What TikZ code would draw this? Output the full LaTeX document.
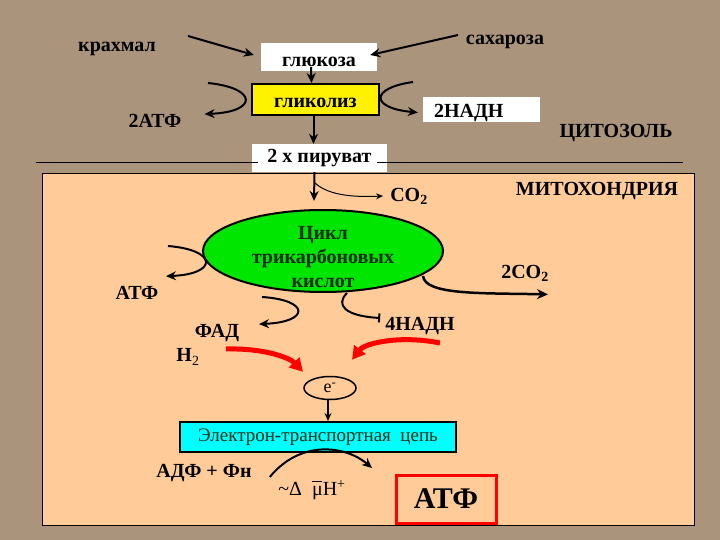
\documentclass[tikz,border=0pt]{standalone}
\usepackage{fontspec}
\setmainfont{Liberation Serif}
\usetikzlibrary{arrows.meta}
\usetikzlibrary{shapes.geometric}

\definecolor{stone}{RGB}{170,148,124}
\definecolor{peach}{RGB}{255,204,153}
\definecolor{leaf}{RGB}{0,230,0}
\definecolor{aqua}{RGB}{0,255,255}
\definecolor{ink}{RGB}{20,45,20}
\newcommand{\mubar}{\leavevmode\rlap{\raisebox{1.45ex}{\rule{0.5em}{0.8pt}}}μ}

\begin{document}
\begin{tikzpicture}[x=1pt,y=-1pt,
	lbl/.style={font=\fontsize{20}{22}\selectfont\bfseries,inner sep=0pt},
	big/.style={font=\fontsize{20}{22}\selectfont\bfseries,inner sep=0pt},
	whitebox/.style={lbl,fill=white,inner sep=0pt},
	arr/.style={line width=2pt,-{Stealth[length=10pt,width=9pt]}},
	thin arr/.style={line width=1pt,-{Stealth[length=7pt,width=6pt]}},
	red arr/.style={red,line width=5pt,-{Triangle[length=13pt,width=14pt]}}]
	\fill[stone] (0,0) rectangle (720,540);
	\useasboundingbox (0,0) rectangle (720,540);
	\draw[fill=peach] (42,173) rectangle (694,525);
	\node[lbl] (starch) at (117,49) {крахмал};
	\node[lbl] (sucrose) at (505,42) {сахароза};
	\node[whitebox,minimum width=116,minimum height=28,text height=19,text depth=0] (glucose) at (319,57) {глюкоза};
	\node[lbl,draw,line width=2pt,fill=yellow,minimum width=127,minimum height=31,text height=16,text depth=0] (glyc) at (315.5,99.5) {гликолиз};
	\node[whitebox,minimum height=25,text width=95,inner xsep=11,align=left,text height=17,text depth=0] (nadh2) at (481.5,109.5) {2НАДН};
	\node[lbl] (atp2) at (155,121) {2АТФ};
	\node[big] (cyto) at (616,133) {ЦИТОЗОЛЬ};
	\node[whitebox,minimum width=135,minimum height=28] (pyr) at (319.5,158) {2 х пируват};
	\draw (36,162) -- ([xshift=6,yshift=-4]pyr.west);
	\draw ([xshift=-10,yshift=-4]pyr.east) -- (683,162);
	\node[big] (mito) at (597,191) {МИТОХОНДРИЯ};
	\node[lbl] (co2) at (409,196) {CO\textsubscript{2}};
	\node[ellipse,draw,line width=2pt,fill=leaf,minimum width=240,minimum height=82,inner sep=0pt] (cycle) at (323,251) {};
	\node[text=ink,align=center,inner sep=0pt,font=\fontsize{20}{24}\selectfont\bfseries] (cycletext) at (323,257) {Цикл\\трикарбоновых\\кислот};
	\node[lbl] (co2b) at (525,273) {2CO\textsubscript{2}};
	\node[lbl] (atp) at (137,293) {АТФ};
	\node[lbl] (fad) at (217,333) {ФАД};
	\node[lbl] (h2) at (188,357) {Н\textsubscript{\mdseries 2}};
	\node[lbl] (nadh4) at (420,326) {4НАДН};
	\node[ellipse,draw,line width=1.5pt,minimum width=52,minimum height=23,inner sep=0pt,font=\fontsize{18}{18}\selectfont] (el) at (330,388) {e\textsuperscript{-}};
	\node[draw,line width=2pt,fill=aqua,minimum width=276,minimum height=30,inner sep=0pt,
		text=ink,font=\fontsize{19}{20}\selectfont] (etc) at (318,437) {Электрон-транспортная\ \ цепь};
	\node[lbl] (adp) at (204,473) {АДФ + Фн};
	\node[inner sep=0pt,font=\fontsize{20}{22}\selectfont] (dmu) at (312,490) {\textasciitilde Δ\ \ \mubar Н\textsuperscript{+}};
	\node[draw=red,line width=3pt,minimum width=100,minimum height=48,inner sep=0pt,
		font=\fontsize{30}{32}\selectfont\bfseries] (atpbox) at (446,499) {АТФ};
	\coordinate (s1) at (188,36);
	\coordinate (s2) at (458,35);
	\coordinate (g1) at (208,83);
	\coordinate (g2) at (413,82);
	\coordinate (c1) at (168,246);
	\coordinate (c2) at (262,297);
	\coordinate (c3) at (347,293);
	\coordinate (c4) at (423,276);
	\coordinate (r1) at (226,349);
	\coordinate (r2) at (440,343);
	\draw[arr] (s1) -- ([xshift=-7,yshift=2]glucose.west);
	\draw[arr] (s2) -- ([xshift=-7,yshift=2]glucose.east);
	\draw[arr] ([xshift=-8,yshift=4]glucose.south) -- ([xshift=-4]glyc.north);
	\draw[arr] (g1) .. controls (258,88) and (258,112) .. ([xshift=23,yshift=7]atp2.east);
	\draw[arr] (g2) .. controls (370,88) and (370,108) .. ([xshift=-5,yshift=-3]nadh2.west);
	\draw[arr] ([xshift=-2]glyc.south) -- ([xshift=-6]pyr.north);
	\draw[arr] ([xshift=-5]pyr.south) -- ([xshift=-9,yshift=8]cycle.north);
	\draw[thin arr] (315,183) .. controls (330,197) and (360,197) .. ([xshift=-7]co2.west);
	\draw[arr] (c1) .. controls (218,250) and (218,274) .. ([xshift=29,yshift=10]atp.north);
	\draw[arr] (c2) .. controls (310,300) and (310,322) .. ([xshift=42]fad.north);
	\draw[line width=2pt,-{Bar[width=9pt]}] (c3) .. controls (335,305) and (345,316) .. ([xshift=-5,yshift=8]nadh4.west);
	\draw[line width=2.5pt,-{Stealth[length=11pt,width=10pt]}] (c4) .. controls (425,295) and (480,293) .. ([xshift=23,yshift=-13]co2b.south);
	\draw[red arr] (r1) .. controls (265,348) and (290,358) .. ([xshift=-27,yshift=4]el.north);
	\draw[red arr] (r2) .. controls (400,335) and (365,343) .. ([xshift=22,yshift=16]el.north);
	\draw[line width=1.5pt,-{Stealth[length=8pt,width=7pt]}] ([xshift=-2]el.south) -- ([xshift=10]etc.north);
	\draw[arr] ([xshift=18,yshift=-4]adp.east) .. controls (300,440) and (345,445) .. (372,468);
\end{tikzpicture}
\end{document}
